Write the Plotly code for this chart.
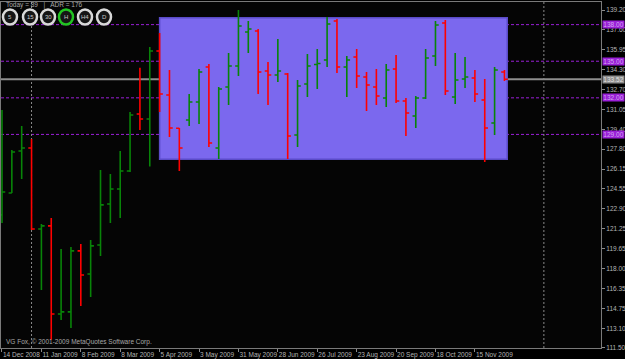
import plotly.graph_objects as go
import pandas as pd

# ---- data ----
dates = pd.date_range("2008-12-14", periods=52, freq="7D")
open_ = [122.40, 124.20, 127.64, 127.89, 121.25, 121.50, 114.28, 114.45, 119.45, 117.56,
         119.94, 123.30, 124.53, 126.00, 130.68, 130.27, 135.84, 132.23, 129.50, 130.18,
         131.66, 134.53, 127.89, 132.89, 134.61, 137.40, 137.48, 134.20, 133.87, 133.95,
         128.95, 133.13, 134.73, 135.10, 138.30, 134.53, 135.35, 133.71, 132.89, 131.99,
         134.36, 131.74, 130.51, 131.99, 135.43, 138.13, 132.07, 133.54, 133.63, 131.82,
         129.94, 134.12]
high = [131.00, 127.72, 129.69, 128.63, 121.66, 122.15, 119.61, 119.77, 120.02, 120.35,
        126.09, 125.76, 127.64, 130.84, 134.47, 136.17, 137.31, 134.28, 129.53, 132.31,
        134.36, 134.77, 132.89, 135.68, 139.20, 138.30, 137.64, 134.94, 136.82, 134.04,
        133.46, 135.59, 136.00, 138.63, 138.46, 135.43, 136.00, 134.12, 134.36, 134.77,
        135.51, 131.99, 132.15, 136.00, 138.30, 138.38, 135.68, 135.35, 134.28, 133.54,
        134.53, 134.28]
low = [121.74, 124.20, 125.35, 121.17, 116.25, 112.15, 113.79, 113.13, 114.94, 115.68,
       119.04, 121.74, 122.15, 125.92, 129.36, 126.37, 130.84, 128.79, 126.00, 129.69,
       129.86, 127.97, 126.99, 131.41, 133.79, 135.68, 132.31, 131.41, 133.30, 126.99,
       127.97, 132.07, 132.72, 134.53, 134.04, 132.07, 132.81, 130.92, 131.41, 131.25,
       131.58, 128.87, 129.53, 131.90, 134.61, 132.23, 131.50, 132.81, 131.66, 126.74,
       128.95, 133.38]
close = [124.28, 127.56, 127.89, 121.25, 121.50, 114.28, 114.45, 119.45, 117.48, 119.86,
         123.22, 124.53, 126.00, 130.59, 130.27, 135.84, 132.31, 129.53, 127.89, 131.66,
         134.12, 128.30, 132.72, 134.61, 137.89, 137.64, 134.12, 133.87, 134.20, 128.87,
         132.97, 134.61, 134.81, 138.05, 134.53, 135.10, 133.79, 133.05, 132.15, 134.28,
         131.74, 130.76, 131.99, 135.27, 137.97, 132.56, 133.46, 133.71, 132.31, 129.53,
         134.28, 133.52]

xtick_dates = ["2008-12-14", "2009-01-11", "2009-02-08", "2009-03-08", "2009-04-05",
               "2009-05-03", "2009-05-31", "2009-06-28", "2009-07-26", "2009-08-23",
               "2009-09-20", "2009-10-18", "2009-11-15"]
xtick_text = ["14 Dec 2008", "11 Jan 2009", "8 Feb 2009", "8 Mar 2009", "5 Apr 2009",
              "3 May 2009", "31 May 2009", "28 Jun 2009", "26 Jul 2009", "23 Aug 2009",
              "20 Sep 2009", "18 Oct 2009", "15 Nov 2009"]
ytick_vals = [139.20, 137.60, 135.95, 134.30, 132.70, 131.05, 129.40, 127.80, 126.15,
              124.55, 122.90, 121.25, 119.65, 118.00, 116.35, 114.75, 113.10, 111.50]
ytick_text = ["139.20", "137.60", "135.95", "134.30", "132.70", "131.05", "129.40", "127.80",
              "126.15", "124.55", "122.90", "121.25", "119.65", "118.00", "116.35", "114.75",
              "113.10", "111.50"]

levels = [138.00, 135.00, 132.00, 129.00]
level_text = ["138.00", "135.00", "132.00", "129.00"]
current_price = 133.52
current_text = "133.52"
rect_start, rect_end = "2009-04-05", "2009-12-08"
rect_low, rect_high = 126.96, 138.57
separators = ["2009-01-04", "2010-01-03"]
timeframes = ["5", "15", "30", "H", "H4", "D"]
tf_active = "H"
info_text = "Today = 89   |   ADR = 176"
copyright_text = "VG Fox, \u00a9 2001-2009 MetaQuotes Software Corp."

FONT = "Liberation Sans"
W, H = 625, 359
ML, MR, MT, MB = 1, 24, 2, 11
PW, PH = W - ML - MR, H - MT - MB


def px(x):
    return (x - ML) / PW


def py(y):
    return 1 - (y - MT) / PH


fig = go.Figure()
fig.add_trace(go.Ohlc(
    x=dates, open=open_, high=high, low=low, close=close,
    increasing=dict(line=dict(color="#088408", width=1.6)),
    decreasing=dict(line=dict(color="#ff0000", width=1.6)),
    tickwidth=0.33, hoverinfo="skip", showlegend=False,
))

shapes = []
shapes.append(dict(type="rect", xref="x", yref="y", x0=rect_start, x1=rect_end,
                   y0=rect_low, y1=rect_high, fillcolor="#7b68ee",
                   line=dict(color="#5b4bc8", width=1.5), layer="below"))
shapes.append(dict(type="line", xref="paper", yref="y", x0=0, x1=1,
                   y0=current_price, y1=current_price,
                   line=dict(color="rgba(255,255,255,0.55)", width=2), layer="below"))
for lv in levels:
    shapes.append(dict(type="line", xref="paper", yref="y", x0=0, x1=1, y0=lv, y1=lv,
                       line=dict(color="#9a1fd8", width=1, dash="3px,2px"), layer="below"))
for s in separators:
    shapes.append(dict(type="line", xref="x", yref="paper", x0=s, x1=s, y0=0, y1=1,
                       line=dict(color="#8a8a8a", width=1, dash="2px,2px"), layer="below"))

annotations = []
centers = [10, 30, 48, 66, 85, 104]
for tf, cx in zip(timeframes, centers):
    ring = "#22c422" if tf == tf_active else "#d8d8d8"
    shapes.append(dict(type="circle", xref="paper", yref="paper",
                       xsizemode="pixel", ysizemode="pixel",
                       xanchor=px(cx), yanchor=py(17),
                       x0=-7, x1=7, y0=-7.5, y1=7.5,
                       fillcolor="#151515", line=dict(color=ring, width=2.5), layer="above"))
    annotations.append(dict(xref="paper", yref="paper", x=px(cx), y=py(17), text=tf,
                            showarrow=False, font=dict(family=FONT, size=6, color="#c8c8c8"),
                            xanchor="center", yanchor="middle"))

annotations.append(dict(xref="paper", yref="paper", x=px(4), y=py(5), text=info_text,
                        showarrow=False, font=dict(family=FONT, size=6.5, color="#a8a8a8"),
                        xanchor="left", yanchor="middle"))
annotations.append(dict(xref="paper", yref="paper", x=px(4), y=py(342), text=copyright_text,
                        showarrow=False, font=dict(family=FONT, size=6.5, color="#a8a8a8"),
                        xanchor="left", yanchor="middle"))
for lv, t in zip(levels, level_text):
    annotations.append(dict(xref="paper", yref="y", x=1, y=lv, text=t, showarrow=False,
                            xanchor="left", yanchor="middle", xshift=1,
                            bgcolor="#9a1fd8", borderpad=0,
                            font=dict(family=FONT, size=6.5, color="#d2a8ee"), width=21))
annotations.append(dict(xref="paper", yref="y", x=1, y=current_price, text=current_text,
                        showarrow=False, xanchor="left", yanchor="middle", xshift=1,
                        bgcolor="#8e8e8e", borderpad=0,
                        font=dict(family=FONT, size=6.5, color="#e2e2e2"), width=21))

x0 = pd.Timestamp("2008-12-14") - pd.Timedelta(days=0.7)
x1 = pd.Timestamp("2008-12-14") + pd.Timedelta(days=7 * 60.8)

fig.update_layout(
    width=W, height=H, margin=dict(l=ML, r=MR, t=MT, b=MB, autoexpand=False),
    paper_bgcolor="#000000", plot_bgcolor="#050505",
    shapes=shapes, annotations=annotations, showlegend=False,
    xaxis=dict(range=[x0, x1], rangeslider=dict(visible=False), showgrid=False,
               zeroline=False, tickmode="array", tickvals=xtick_dates, ticktext=xtick_text,
               ticks="outside", ticklen=3, tickcolor="#8a8a8a", tickangle=0,
               automargin=False, ticklabelposition="outside right",
               tickfont=dict(family=FONT, size=6.5, color="#b4b4b4"),
               showline=True, linecolor="#7a7a7a", linewidth=1, mirror=True),
    yaxis=dict(range=[111.49, 139.856], side="right", showgrid=False, zeroline=False,
               tickmode="array", tickvals=ytick_vals, ticktext=ytick_text,
               ticks="outside", ticklen=3, tickcolor="#8a8a8a", automargin=False,
               tickfont=dict(family=FONT, size=6.5, color="#b4b4b4"),
               showline=True, linecolor="#7a7a7a", linewidth=1, mirror=True),
)

fig.write_html("out.html")
